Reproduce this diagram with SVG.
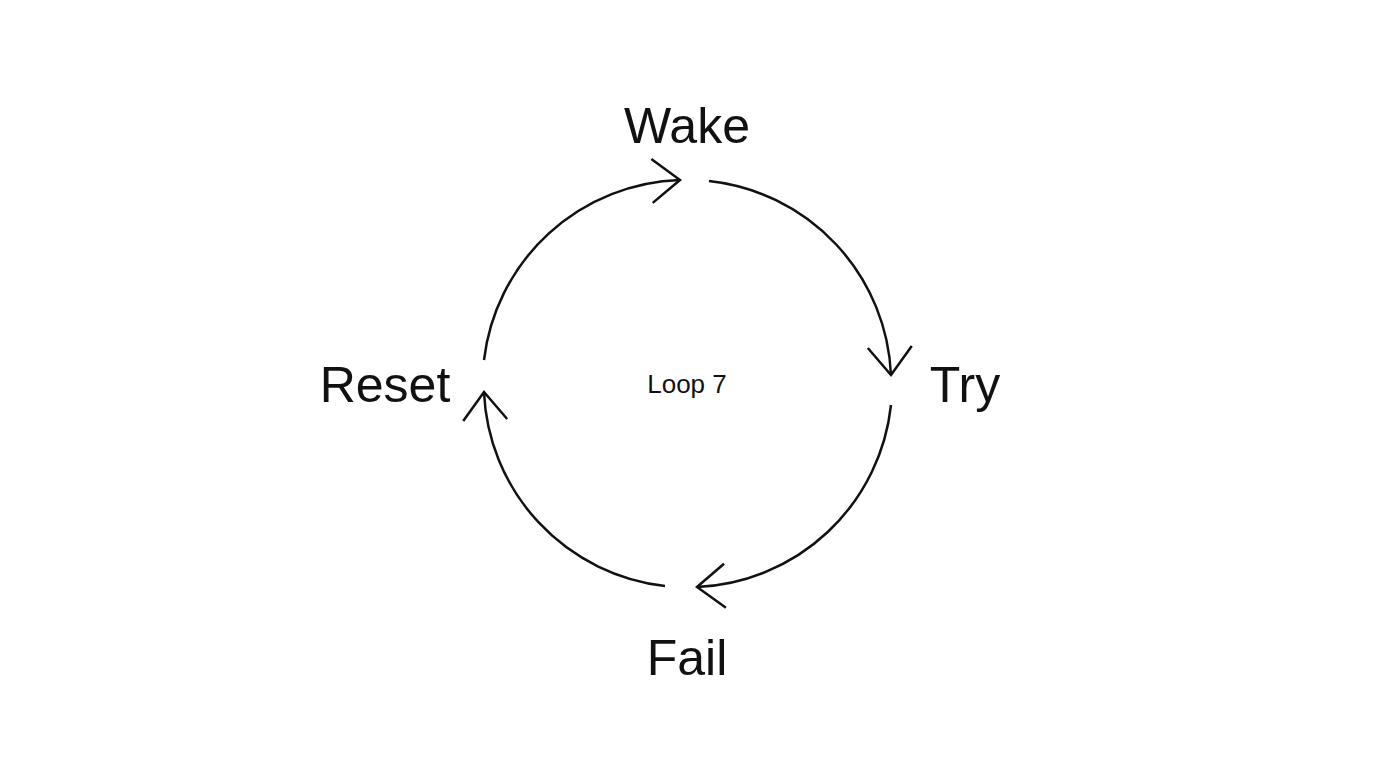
<svg xmlns="http://www.w3.org/2000/svg" width="1376" height="768" viewBox="0 0 1376 768">
<style>
.lbl{font-family:"Liberation Sans",Arial,sans-serif;font-size:50px;fill:#111;text-anchor:middle}
.c{fill:none;stroke:#111;stroke-width:2.5}
</style>
<defs>
<marker id="ah" markerUnits="userSpaceOnUse" markerWidth="60" markerHeight="60" refX="0" refY="0" orient="auto" overflow="visible">
<path d="M-28,-22 L0,0 L-28,22" fill="none" stroke="#111" stroke-width="2.5"/>
</marker>
</defs>
<rect width="1376" height="768" fill="#fff"/>
<g id="connectors">
<path class="c" d="M709,181 A204,204 0 0 1 891,375" marker-end="url(#ah)"/>
<path class="c" d="M891,405 A204,204 0 0 1 697,587" marker-end="url(#ah)"/>
<path class="c" d="M665,586 A204,204 0 0 1 484,392" marker-end="url(#ah)"/>
<path class="c" d="M484,360 A204,204 0 0 1 680,180" marker-end="url(#ah)"/>
</g>
<g id="wake"><text class="lbl" x="687" y="143">Wake</text></g>
<g id="try"><text class="lbl" x="965" y="402">Try</text></g>
<g id="fail"><text class="lbl" x="687" y="675">Fail</text></g>
<g id="reset"><text class="lbl" x="385" y="402">Reset</text></g>
<g id="center"><text x="687" y="393" style="font-family:'Liberation Sans',Arial,sans-serif;font-size:26px;fill:#111;text-anchor:middle">Loop 7</text></g>
</svg>
